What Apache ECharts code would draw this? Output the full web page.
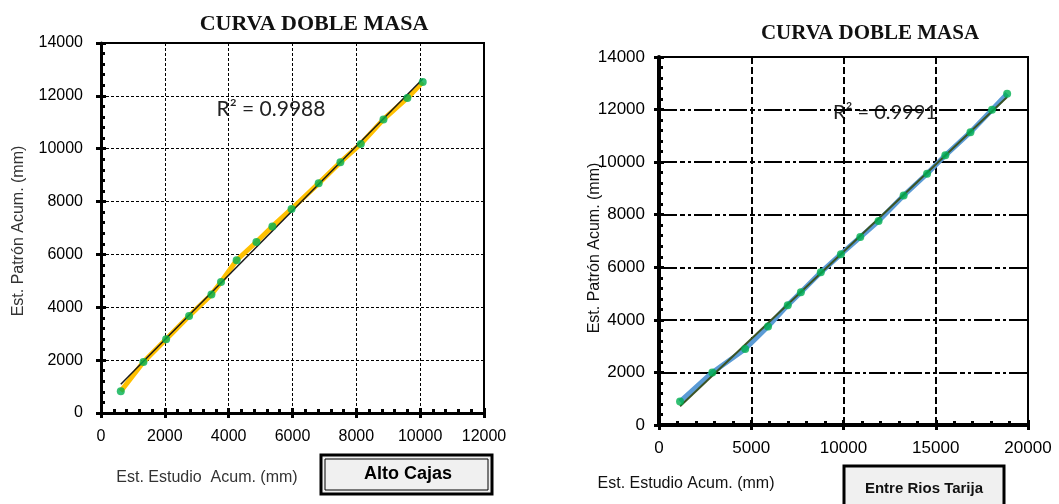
<!DOCTYPE html>
<html>
<head>
<meta charset="utf-8">
<script src="https://cdn.jsdelivr.net/npm/echarts@6/dist/echarts.min.js"></script>
<style>html,body{margin:0;padding:0;background:#fff;}#c{width:1059px;height:504px;}</style>
</head>
<body>
<div id="c"></div>
<script>
// ---- Data ----
const leftX = [620, 1330, 2040, 2760, 3460, 3760, 4250, 4870, 5370, 5970, 6820, 7500, 8140, 8850, 9600, 10080];
const leftY = [820, 1930, 2790, 3670, 4480, 4960, 5780, 6470, 7060, 7720, 8690, 9490, 10180, 11110, 11920, 12520];
const rightX = [1140, 2890, 4670, 5910, 6980, 7690, 8770, 9860, 10910, 11900, 13260, 14530, 15520, 16880, 18050, 18870];
const rightY = [890, 2000, 2890, 3750, 4560, 5050, 5810, 6500, 7150, 7760, 8730, 9560, 10260, 11140, 11990, 12600];
const leftR2 = '0.9988';
const rightR2 = '0.9991';
const titleText = 'CURVA DOBLE MASA';
const yName = 'Est. Patrón Acum. (mm)';
const xNameLeft = 'Est. Estudio  Acum. (mm)';
const xNameRight = 'Est. Estudio Acum. (mm)';
const leftStation = 'Alto Cajas';
const rightStation = 'Entre Rios Tarija';

function pairs(xs, ys) { return xs.map((x, i) => [x, ys[i]]); }
function fit(xs, ys) {
  const n = xs.length;
  let sx = 0, sy = 0, sxx = 0, sxy = 0;
  for (let i = 0; i < n; i++) { sx += xs[i]; sy += ys[i]; sxx += xs[i] * xs[i]; sxy += xs[i] * ys[i]; }
  const b = (n * sxy - sx * sy) / (n * sxx - sx * sx);
  const a = (sy - b * sx) / n;
  const x0 = Math.min(...xs), x1 = Math.max(...xs);
  return [[x0, a + b * x0], [x1, a + b * x1]];
}

const SANS = "'Liberation Sans', Arial, sans-serif";
const plain = v => String(v);

function mainAxis(grid, max, interval, o) {
  return {
    gridIndex: grid, type: 'value', min: 0, max: max, interval: interval, position: o.pos,
    axisLine: { show: true, onZero: false, lineStyle: { color: '#000', width: o.lw } },
    axisTick: { show: true, length: 5, lineStyle: { color: '#000', width: o.tw } },
    minorTick: { show: false },
    axisLabel: { color: '#000', fontSize: o.fs, fontFamily: SANS, margin: o.margin, formatter: plain },
    splitLine: { show: true, lineStyle: { color: '#000', width: o.sw, type: o.st } }
  };
}
function tickAxis(grid, max, interval, o) {
  return {
    gridIndex: grid, type: 'value', min: 0, max: max, interval: interval, position: o.pos,
    axisLine: { show: false, onZero: false },
    axisTick: { show: true, inside: true, length: 5, lineStyle: { color: '#000', width: o.tw } },
    minorTick: { show: true, splitNumber: 5, length: 4, lineStyle: { color: '#000', width: o.tw } },
    axisLabel: { show: false },
    splitLine: { show: false }
  };
}

const Lx = { pos: 'bottom', lw: 3, tw: 3, fs: 16, margin: 16, sw: 1, st: [3, 2] };
const Ly = { pos: 'left', lw: 3, tw: 3, fs: 16, margin: 18, sw: 1, st: [3, 2] };
const Rx = { pos: 'bottom', lw: 4, tw: 3, fs: 17, margin: 15, sw: 2, st: [7, 3] };
const Ry = { pos: 'left', lw: 4, tw: 3, fs: 17, margin: 14, sw: 2, st: [18, 3, 5, 3, 3, 3] };

const chart = echarts.init(document.getElementById('c'), null, { renderer: 'canvas' });

chart.setOption({
  backgroundColor: '#fff',
  animation: false,
  grid: [
    { left: 101, top: 43, width: 383, height: 370, show: true, borderColor: '#000', borderWidth: 2, backgroundColor: 'transparent' },
    { left: 659, top: 57, width: 369, height: 368, show: true, borderColor: '#000', borderWidth: 2, backgroundColor: 'transparent' }
  ],
  xAxis: [
    mainAxis(0, 12000, 2000, Lx), tickAxis(0, 12000, 2000, Lx),
    mainAxis(1, 20000, 5000, Rx), tickAxis(1, 20000, 5000, Rx)
  ],
  yAxis: [
    mainAxis(0, 14000, 2000, Ly), tickAxis(0, 14000, 2000, Ly),
    mainAxis(1, 14000, 2000, Ry), tickAxis(1, 14000, 2000, Ry)
  ],
  series: [
    { type: 'line', xAxisIndex: 0, yAxisIndex: 0, data: pairs(leftX, leftY), showSymbol: false, symbol: 'none',
      lineStyle: { color: '#FFC000', width: 5 }, z: 2 },
    { type: 'line', xAxisIndex: 0, yAxisIndex: 0, data: fit(leftX, leftY), showSymbol: false, symbol: 'none',
      lineStyle: { color: '#1a1a1a', width: 1.5 }, z: 3 },
    { type: 'scatter', xAxisIndex: 0, yAxisIndex: 0, data: pairs(leftX, leftY), symbolSize: 8,
      itemStyle: { color: '#00B050' }, z: 4 },
    { type: 'line', xAxisIndex: 2, yAxisIndex: 2, data: pairs(rightX, rightY), showSymbol: false, symbol: 'none',
      lineStyle: { color: '#5B9BD5', width: 5 }, z: 2 },
    { type: 'line', xAxisIndex: 2, yAxisIndex: 2, data: fit(rightX, rightY), showSymbol: false, symbol: 'none',
      lineStyle: { color: '#3B5323', width: 2 }, z: 3 },
    { type: 'scatter', xAxisIndex: 2, yAxisIndex: 2, data: pairs(rightX, rightY), symbolSize: 8,
      itemStyle: { color: '#00B050' }, z: 4 }
  ],
  graphic: [
    { type: 'text', x: 314, y: 24, style: { text: titleText, font: 'bold 22px "Liberation Serif", "Times New Roman", serif', fill: '#111', align: 'center', verticalAlign: 'middle' } },
    { type: 'text', x: 870, y: 34, style: { text: titleText, font: 'bold 21px "Liberation Serif", "Times New Roman", serif', fill: '#111', align: 'center', verticalAlign: 'middle' } },
    { type: 'text', x: 271, y: 109, style: { text: 'R² = ' + leftR2, font: '21px Lato, "Open Sans", sans-serif', fill: '#222', align: 'center', verticalAlign: 'middle' } },
    { type: 'text', x: 885, y: 113, z: -1, style: { text: 'R² = ' + rightR2, font: '20px Lato, "Open Sans", sans-serif', fill: '#222', align: 'center', verticalAlign: 'middle' } },
    { type: 'text', x: 19, y: 231, rotation: Math.PI / 2, style: { text: yName, font: '16px ' + SANS, fill: '#333', align: 'center', verticalAlign: 'middle' } },
    { type: 'text', x: 595, y: 248, rotation: Math.PI / 2, style: { text: yName, font: '16px ' + SANS, fill: '#111', align: 'center', verticalAlign: 'middle' } },
    { type: 'text', x: 207, y: 478, style: { text: xNameLeft, font: '16px ' + SANS, fill: '#333', align: 'center', verticalAlign: 'middle' } },
    { type: 'text', x: 686, y: 484, style: { text: xNameRight, font: '16px ' + SANS, fill: '#111', align: 'center', verticalAlign: 'middle' } },
    { type: 'rect', shape: { x: 321, y: 455, width: 171, height: 39 }, style: { fill: '#f0f0f0', stroke: '#000', lineWidth: 3 } },
    { type: 'rect', shape: { x: 325, y: 459, width: 163, height: 31 }, style: { fill: 'none', stroke: '#000', lineWidth: 1 } },
    { type: 'text', x: 408, y: 474, style: { text: leftStation, font: 'bold 18px ' + SANS, fill: '#000', align: 'center', verticalAlign: 'middle' } },
    { type: 'rect', shape: { x: 844, y: 466, width: 160, height: 50 }, style: { fill: '#f0f0f0', stroke: '#000', lineWidth: 3 } },
    { type: 'text', x: 924, y: 489, style: { text: rightStation, font: 'bold 15px ' + SANS, fill: '#111', align: 'center', verticalAlign: 'middle' } }
  ]
});
</script>
</body>
</html>
